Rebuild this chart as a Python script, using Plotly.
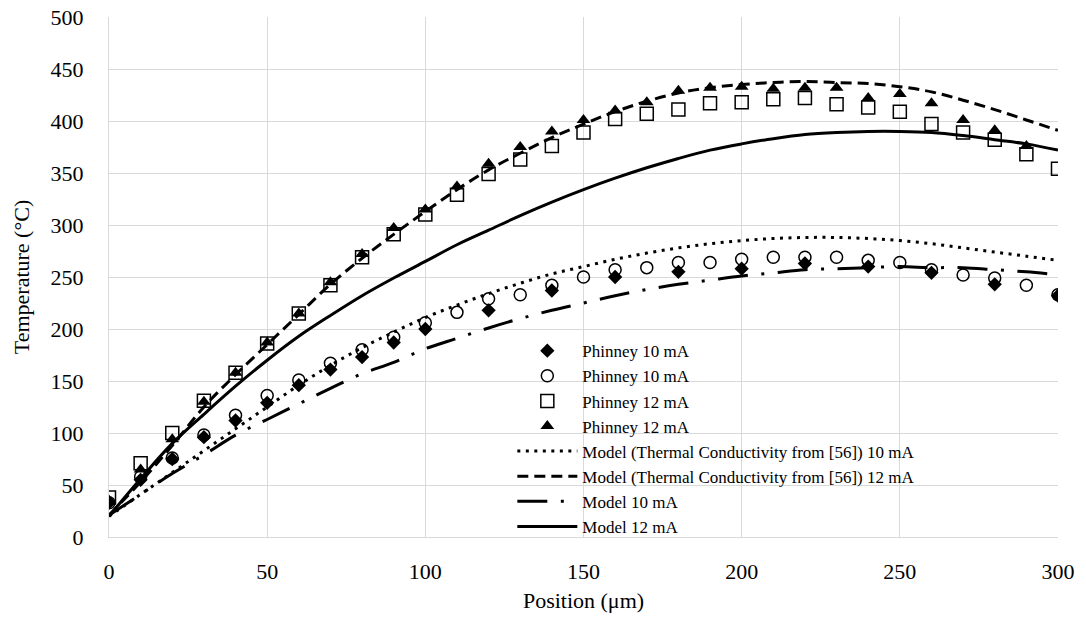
import plotly.graph_objects as go

# Position (um)
x = list(range(0, 301, 10))

# Phinney measurements
phinney10_diamond = [33, 55, 75, 96, 112, 129, 146, 161, 173, 187, 200, None, 218, None, 237, None,
                     250, None, 255, None, 258, None, 263, None, 260, None, 254, None, 243, None, 232]
phinney10_circle = [33, 58, 76, 98, 117, 136, 151, 167, 180, 192, 206, 216, 229, 233, 242, 250,
                    257, 259, 264, 264, 267, 269, 269, 269, 266, 264, 257, 252, 249, 242, 233]
phinney12_square = [38, 71, 100, 131, 158, 186, 215, 242, 269, 291, 310, 329, 349, 363, 376, 389,
                    402, 407, 411, 417, 418, 421, 422, 416, 413, 409, 397, 389, 382, 368, 354]
phinney12_triangle = [35, 65, 94, 130, 158, 187, 215, 245, 272, 297, 315, 337, 359, 375, 390, 401,
                      410, 418, 429, 432, 433, 431, 432, 432, 422, 426, 417, 401, 391, 376, None]

# Model curves
model_tc10 = [20, 41, 62, 83, 104, 125, 146, 165, 182, 197, 211, 223, 234, 244, 253, 260,
              267, 273, 278, 282, 285, 287, 288, 288, 287, 285, 282, 278, 274, 270, 266]
model_tc12 = [21, 53, 88, 125, 156, 185, 214, 243, 268, 291, 313, 334, 353, 369, 384, 397,
              409, 419, 427, 432, 435, 437, 438, 437, 436, 433, 428, 420, 411, 401, 391]
model10 = [21, 41, 61, 79, 98, 113, 128, 143, 157, 168, 181, 191, 201, 210, 218, 225,
           232, 238, 243, 247, 251, 254, 257, 258, 259, 260, 259, 259, 257, 255, 252]
model12 = [20, 56, 90, 118, 145, 170, 193, 213, 232, 249, 265, 281, 295, 309, 322, 334,
           345, 355, 364, 372, 378, 383, 387, 389, 390, 390, 389, 386, 382, 378, 372]

FONT = "Liberation Serif"

fig = go.Figure()

fig.add_trace(go.Scatter(x=x, y=phinney10_diamond, mode="markers", name="Phinney 10 mA",
                         marker=dict(symbol="diamond", size=11, color="black")))
fig.add_trace(go.Scatter(x=x, y=phinney10_circle, mode="markers", name="Phinney 10 mA",
                         marker=dict(symbol="circle-open", size=12, color="black",
                                     line=dict(width=1.5, color="black"))))
fig.add_trace(go.Scatter(x=x, y=phinney12_square, mode="markers", name="Phinney 12 mA",
                         marker=dict(symbol="square-open", size=13, color="black",
                                     line=dict(width=1.5, color="black"))))
fig.add_trace(go.Scatter(x=x, y=phinney12_triangle, mode="markers", name="Phinney 12 mA",
                         marker=dict(symbol="triangle-up", size=12, color="black")))

fig.add_trace(go.Scatter(x=x, y=model_tc10, mode="lines",
                         name="Model (Thermal Conductivity from [56]) 10 mA",
                         line=dict(color="black", width=3, dash="3px,5.5px", shape="spline")))
fig.add_trace(go.Scatter(x=x, y=model_tc12, mode="lines",
                         name="Model (Thermal Conductivity from [56]) 12 mA",
                         line=dict(color="black", width=3, dash="11px,6px", shape="spline")))
fig.add_trace(go.Scatter(x=x, y=model10, mode="lines", name="Model 10 mA",
                         line=dict(color="black", width=3, dash="30px,13.5px,3px,13.5px",
                                   shape="spline")))
fig.add_trace(go.Scatter(x=x, y=model12, mode="lines", name="Model 12 mA",
                         line=dict(color="black", width=3, shape="spline")))

axis_common = dict(
    showgrid=True, gridcolor="#d9d9d9", gridwidth=1.3,
    showline=True, linecolor="#d9d9d9", linewidth=1.3,
    zeroline=False, ticks="",
    tickfont=dict(family=FONT, size=22, color="black"),
)

fig.update_layout(
    width=1086, height=628,
    margin=dict(l=109, r=28, t=17, b=91, autoexpand=False),
    paper_bgcolor="white", plot_bgcolor="white",
    font=dict(family=FONT, color="black"),
    showlegend=True,
    legend=dict(
        x=0.425, y=0.392, xanchor="left", yanchor="top",
        bgcolor="rgba(0,0,0,0)", borderwidth=0,
        font=dict(family=FONT, size=17, color="black"),
        itemwidth=60, tracegroupgap=0,
    ),
    xaxis=dict(range=[0, 300], dtick=50, tick0=0,
               ticklabelstandoff=14,
               title=dict(text="Position (μm)", font=dict(family=FONT, size=22, color="black"),
                          standoff=10),
               **axis_common),
    yaxis=dict(range=[0, 500], dtick=50, tick0=0,
               ticklabelstandoff=20,
               title=dict(text="Temperature (°C)", font=dict(family=FONT, size=22, color="black"),
                          standoff=14),
               **axis_common),
)

fig.write_html("out.html")
